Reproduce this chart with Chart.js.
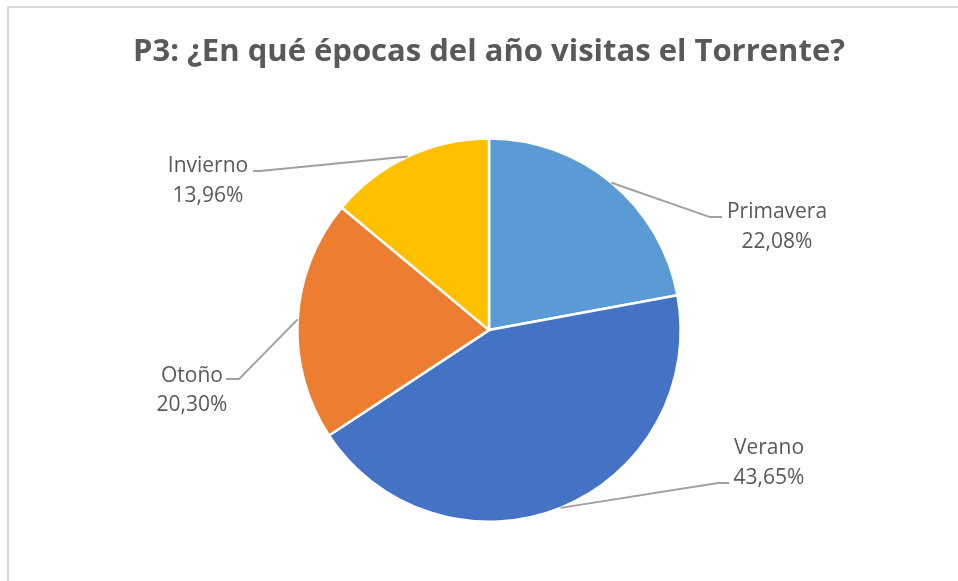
<!DOCTYPE html>
<html>
<head>
<meta charset="utf-8">
<script src="https://cdn.jsdelivr.net/npm/chart.js@4.4.1/dist/chart.umd.min.js"></script>
<style>
html,body{margin:0;padding:0;background:#fff;}
#wrap{width:958px;height:581px;position:relative;}
</style>
</head>
<body>
<div id="wrap"><canvas id="c" width="958" height="581"></canvas></div>
<script>
const titleText = 'P3: ¿En qué épocas del año visitas el Torrente?';
const categories = ['Primavera', 'Verano', 'Otoño', 'Invierno'];
const percentages = [22.08, 43.65, 20.30, 13.96];
const sliceColors = ['#5B9BD5', '#4472C4', '#ED7D31', '#FFC000'];

// label placement (pixels relative to pie centre)
const labelLayout = [
  {elbow: [221, -113], endX: 233, textX: 288, base1: -112, base2: -82},
  {elbow: [229, 153], endX: 240, textX: 280, base1: 124, base2: 154},
  {elbow: [-250, 49], endX: -263, textX: -297, base1: 52, base2: 81},
  {elbow: [-229, -159], endX: -236, textX: -281, base1: -158, base2: -128}
];

const frameBorder = {
  id: 'frameBorder',
  beforeDraw(chart) {
    const ctx = chart.ctx;
    ctx.save();
    ctx.fillStyle = '#ffffff';
    ctx.fillRect(0, 0, chart.width, chart.height);
    ctx.strokeStyle = '#d9d9d9';
    ctx.lineWidth = 2;
    ctx.strokeRect(8, 7, 1200, 1200);
    ctx.restore();
  }
};

const pieLabels = {
  id: 'pieLabels',
  afterDatasetsDraw(chart) {
    const ctx = chart.ctx;
    const meta = chart.getDatasetMeta(0);
    ctx.save();
    meta.data.forEach((arc, i) => {
      const p = arc.getProps(['x', 'y', 'startAngle', 'endAngle', 'outerRadius'], true);
      const mid = (p.startAngle + p.endAngle) / 2;
      const sx = p.x + Math.cos(mid) * p.outerRadius;
      const sy = p.y + Math.sin(mid) * p.outerRadius;
      const L = labelLayout[i];
      const ex = p.x + L.elbow[0], ey = p.y + L.elbow[1];
      ctx.strokeStyle = '#a0a0a0';
      ctx.lineWidth = 2;
      ctx.beginPath();
      ctx.moveTo(sx, sy);
      ctx.lineTo(ex, ey);
      ctx.lineTo(p.x + L.endX, ey);
      ctx.stroke();
      ctx.fillStyle = '#595959';
      ctx.font = '21px "Open Sans"';
      ctx.textAlign = 'center';
      ctx.textBaseline = 'alphabetic';
      const tx = p.x + L.textX;
      ctx.fillText(categories[i], tx, p.y + L.base1);
      ctx.fillText(percentages[i].toFixed(2).replace('.', ',') + '%', tx, p.y + L.base2);
    });
    ctx.restore();
  }
};

new Chart(document.getElementById('c'), {
  type: 'pie',
  data: {
    labels: categories,
    datasets: [{
      data: percentages,
      backgroundColor: sliceColors,
      borderColor: '#ffffff',
      borderWidth: 2.5
    }]
  },
  options: {
    responsive: false,
    animation: false,
    events: [],
    layout: {padding: {left: 20, right: 0, top: 0, bottom: 58}},
    plugins: {
      legend: {display: false},
      tooltip: {enabled: false},
      title: {
        display: true,
        text: titleText,
        color: '#595959',
        font: {family: '"Open Sans"', size: 31, weight: 'bold', lineHeight: 1.2},
        padding: {top: 34, bottom: 66}
      }
    }
  },
  plugins: [frameBorder, pieLabels]
});
</script>
</body>
</html>
